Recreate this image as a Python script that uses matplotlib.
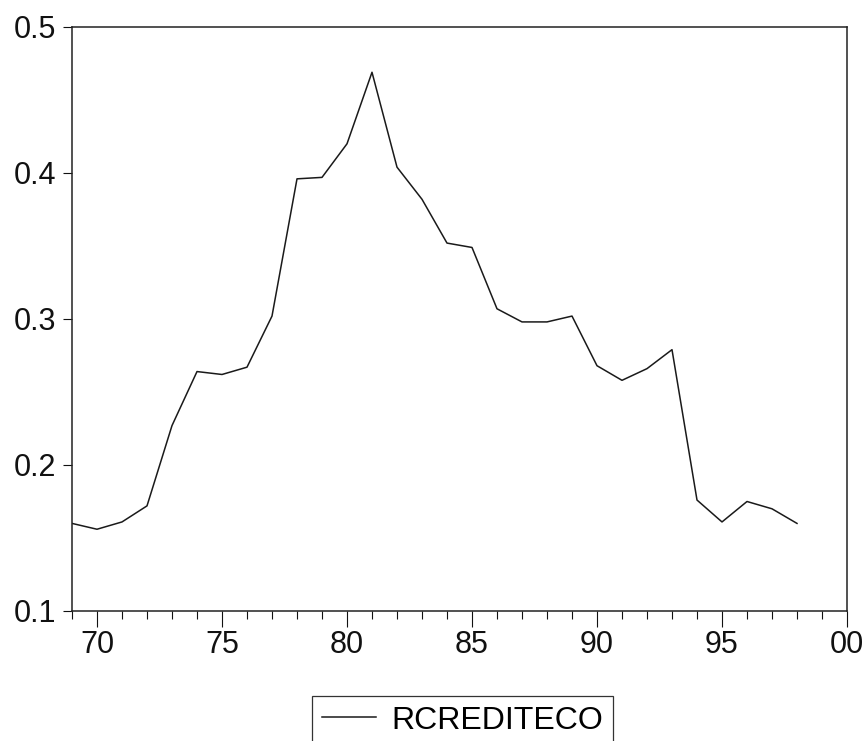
import matplotlib.pyplot as plt
import numpy as np
from matplotlib.ticker import FixedLocator, MultipleLocator

plt.rcParams['font.family'] = ['Liberation Sans', 'DejaVu Sans']

# Data
years = np.arange(1969, 1999)
rcrediteco = [0.160, 0.156, 0.161, 0.172, 0.227, 0.264, 0.262, 0.267, 0.302, 0.396,
              0.397, 0.420, 0.469, 0.404, 0.382, 0.352, 0.349, 0.307, 0.298, 0.298,
              0.302, 0.268, 0.258, 0.266, 0.279, 0.176, 0.161, 0.175, 0.170, 0.160]
xticks = [1970, 1975, 1980, 1985, 1990, 1995, 2000]
xlabels = ['70', '75', '80', '85', '90', '95', '00']
yticks = [0.1, 0.2, 0.3, 0.4, 0.5]
ylabels = ['0.1', '0.2', '0.3', '0.4', '0.5']

fig = plt.figure(figsize=(8.65, 7.41), dpi=100)
ax = fig.add_axes([72/865, 1 - 611/741, (847 - 72)/865, (611 - 27)/741])

ax.plot(years, rcrediteco, color='#1a1a1a', linewidth=1.1, label='RCREDITECO')

ax.set_xlim(1969, 2000)
ax.set_ylim(0.1, 0.5)

ax.xaxis.set_major_locator(FixedLocator(xticks))
ax.set_xticklabels(xlabels)
ax.xaxis.set_minor_locator(MultipleLocator(1))
ax.yaxis.set_major_locator(FixedLocator(yticks))
ax.set_yticklabels(ylabels)

ax.tick_params(axis='x', which='major', direction='out', length=11.5, width=0.8,
               labelsize=22, pad=2, colors='#111111')
ax.tick_params(axis='x', which='minor', direction='out', length=5.5, width=0.8,
               colors='#111111')
ax.tick_params(axis='y', which='major', direction='out', length=6.5, width=0.8,
               labelsize=22, pad=5, colors='#111111')

for s in ax.spines.values():
    s.set_linewidth(1.1)
    s.set_color('#222222')

fig.legend(loc='upper left', bbox_to_anchor=(312/865, 1 - 696/741),
           borderaxespad=0, fontsize=23, frameon=True, fancybox=False,
           edgecolor='#333333', framealpha=1, handlelength=1.7,
           handletextpad=0.5, borderpad=0.3)
fig.legends[0].get_frame().set_linewidth(0.9)

fig.savefig('out.png', dpi=100, facecolor='white')
